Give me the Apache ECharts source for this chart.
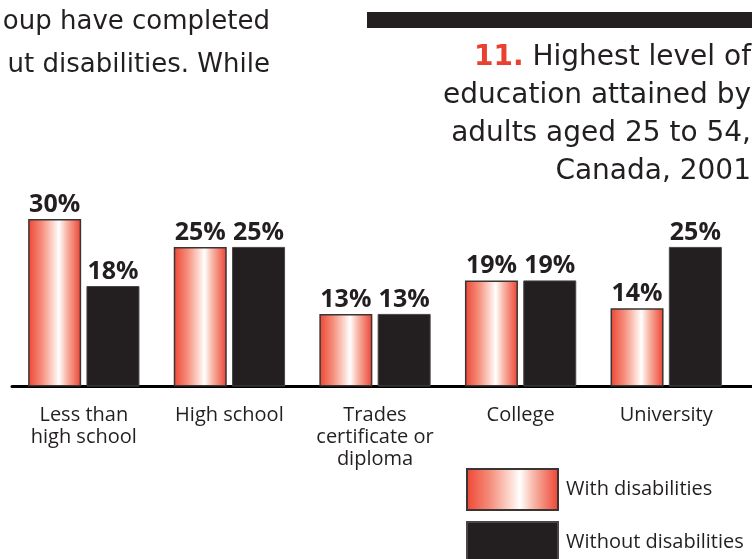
<!DOCTYPE html>
<html>
<head>
<meta charset="utf-8">
<script src="https://cdn.jsdelivr.net/npm/echarts@6/dist/echarts.min.js"></script>
<style>
  html, body { margin: 0; padding: 0; background: #fff; }
  #chart { width: 752px; height: 559px; }
</style>
</head>
<body>
<div id="chart"></div>
<script>
const categories = ['Less than\nhigh school', 'High school', 'Trades\ncertificate or\ndiploma', 'College', 'University'];
const withDisabilities = [30, 25, 13, 19, 14];
const withoutDisabilities = [18, 25, 13, 19, 25];
const seriesNames = ['With disabilities', 'Without disabilities'];

const ink = '#231f20';
const redGradient = new echarts.graphic.LinearGradient(0, 0, 1, 0, [
  { offset: 0, color: '#ee4634' },
  { offset: 0.25, color: '#f58b79' },
  { offset: 0.5, color: '#fde2da' },
  { offset: 0.58, color: '#ffffff' },
  { offset: 0.72, color: '#f8b9aa' },
  { offset: 1, color: '#ed4231' }
]);

const valueLabel = {
  show: true,
  position: 'top',
  distance: 2,
  formatter: '{c}%',
  fontFamily: 'Open Sans',
  fontWeight: 'bold',
  fontSize: 25,
  color: ink
};

// one legend per entry so the second swatch sits below the first (it runs off the page)
const legendBase = {
  orient: 'vertical',
  left: 466,
  padding: 0,
  itemWidth: 91,
  itemHeight: 41,
  icon: 'rect',
  textStyle: { fontFamily: 'Open Sans', fontSize: 20, color: ink, padding: [0, 0, 0, 3] }
};

const chart = echarts.init(document.getElementById('chart'), null, { renderer: 'canvas' });

const option = {
  animation: false,
  backgroundColor: '#ffffff',
  graphic: [
    {
      type: 'rect',
      shape: { x: 367, y: 12, width: 385, height: 16 },
      style: { fill: ink }
    },
    {
      type: 'text',
      x: 270,
      y: 1,
      style: {
        text: 'oup have completed\nut disabilities. While',
        align: 'right',
        verticalAlign: 'top',
        font: '26px "DejaVu Sans"',
        lineHeight: 43,
        fill: ink
      }
    },
    {
      type: 'text',
      x: 751,
      y: 39,
      style: {
        text: '{num|11.} Highest level of\neducation attained by\nadults aged 25 to 54,\nCanada, 2001',
        align: 'right',
        verticalAlign: 'top',
        font: '28px "DejaVu Sans"',
        lineHeight: 38,
        fill: ink,
        rich: {
          num: { fontFamily: 'DejaVu Sans', fontWeight: 'bold', fontSize: 28, lineHeight: 38, fill: '#e8412f' }
        }
      }
    }
  ],
  legend: [
    Object.assign({}, legendBase, { top: 468, data: [seriesNames[0]] }),
    Object.assign({}, legendBase, { top: 521, data: [seriesNames[1]] })
  ],
  grid: [
    { left: 11, right: 13, top: 219, bottom: 172.5 },
    { left: 12, right: 0, top: 219, bottom: 172.5 }
  ],
  xAxis: [
    {
      type: 'category',
      data: categories,
      gridIndex: 0,
      axisLine: { show: false },
      axisTick: { show: false },
      axisLabel: {
        interval: 0,
        margin: 18,
        fontFamily: 'Open Sans',
        fontSize: 20,
        lineHeight: 22,
        color: ink
      }
    },
    {
      type: 'value',
      gridIndex: 1,
      min: 0,
      max: 1,
      axisLine: { show: true, lineStyle: { color: '#000', width: 3 } },
      axisTick: { show: false },
      axisLabel: { show: false },
      splitLine: { show: false }
    }
  ],
  yAxis: [
    { type: 'value', gridIndex: 0, min: 0, max: 30, show: false },
    { type: 'value', gridIndex: 1, min: 0, max: 1, show: false }
  ],
  series: [
    {
      name: seriesNames[0],
      type: 'bar',
      data: withDisabilities,
      barWidth: 53,
      barGap: '10%',
      itemStyle: { color: redGradient, borderColor: '#3a3433', borderWidth: 1.5 },
      label: valueLabel
    },
    {
      name: seriesNames[1],
      type: 'bar',
      data: withoutDisabilities,
      barWidth: 53,
      barGap: '10%',
      itemStyle: { color: ink, borderColor: '#4a4647', borderWidth: 1 },
      label: valueLabel
    }
  ]
};

chart.setOption(option);
</script>
</body>
</html>
